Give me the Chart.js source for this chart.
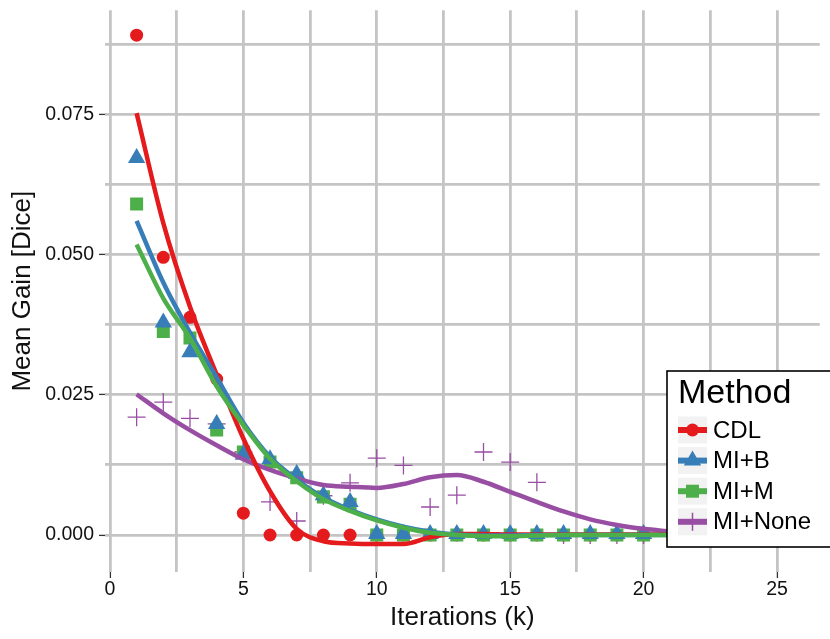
<!DOCTYPE html>
<html lang="en">
<head>
  <meta charset="UTF-8" />
  <title>Mean Gain vs Iterations</title>
  <style>
    body { margin: 0; background: #fff; }
    #chart { display: block; }
  </style>
  <script src="https://cdn.jsdelivr.net/npm/chart.js@4/dist/chart.umd.min.js"></script>
</head>
<body>
  <canvas id="chart" width="830" height="639"></canvas>
  <script>
    /* ---- data ---- */
    // iterations (k) of the measured points
    const iters = [1, 2, 3, 4, 5, 6, 7, 8, 9, 10, 11, 12, 13, 14, 15, 16, 17, 18, 19, 20];
    const cdlPts  = [0.0891, 0.0495, 0.0388, 0.0278, 0.0039, 0, 0, 0, 0, 0, 0, 0, 0, 0, 0, 0, 0, 0, 0, 0];
    const mibPts  = [0.0672, 0.0379, 0.0326, 0.0198, 0.0143, 0.0135, 0.0109, 0.0071, 0.0059, 0.0002, 0.0002, 0.0002, 0.0002, 0.0002, 0.0002, 0.0002, 0.0002, 0.0002, 0.0002, 0.0002];
    const mimPts  = [0.0590, 0.0363, 0.0351, 0.0187, 0.0148, 0.0130, 0.0102, 0.0068, 0.0055, 0, 0, 0, 0, 0, 0, 0, 0, 0, 0, 0];
    const mnPts   = [0.0210, 0.0237, 0.0208, 0.0198, 0.0148, 0.0059, 0.0025, 0.0070, 0.0093, 0.0137, 0.0124, 0.0050, 0.0071, 0.0148, 0.0130, 0.0094, 0, 0, 0, 0];

    // smoothed trend curves
    const fitIters = [1, 2, 3, 4, 5, 6, 7, 8, 9, 10, 11, 12, 13, 14, 15, 16, 17, 18, 19, 20, 21];
    const cdlFit = [0.0752, 0.0556, 0.0407, 0.0286, 0.0172, 0.0078, 0.0011, -0.0011, -0.0015, -0.0016, -0.0016, -0.0004, 0.0002, 0.0002, 0.0001, 0.0001, 0.0001, 0.0001, 0.0001, 0.0001, 0.0001];
    const mibFit = [0.0560, 0.0450, 0.0361, 0.0281, 0.0200, 0.0139, 0.0099, 0.0067, 0.0045, 0.0028, 0.0015, 0.0006, 0.0001, -0.0001, -0.0001, 0, 0, 0, 0, 0, 0];
    const mimFit = [0.0518, 0.0422, 0.0351, 0.0265, 0.0196, 0.0136, 0.0096, 0.0064, 0.0043, 0.0026, 0.0013, 0.0004, 0, -0.0002, -0.0002, -0.0001, 0, 0, 0, 0, 0];
    const mnFit  = [0.0251, 0.0217, 0.0187, 0.0160, 0.0135, 0.0116, 0.0101, 0.0089, 0.0086, 0.0084, 0.0091, 0.0103, 0.0107, 0.0095, 0.0077, 0.0059, 0.0042, 0.0028, 0.0018, 0.0011, 0.0006];

    const methods = ['CDL', 'MI+B', 'MI+M', 'MI+None'];
    const colors  = ['#E41A1C', '#377EB8', '#4DAF4A', '#984EA3'];

    // axis grid / labels
    const xGrid   = [0, 2.5, 5, 7.5, 10, 12.5, 15, 17.5, 20, 22.5, 25];
    const xLabels = [0, 5, 10, 15, 20, 25];
    const yGrid   = [0, 0.0125, 0.025, 0.0375, 0.05, 0.0625, 0.075, 0.0875];
    const yLabels = [0, 0.025, 0.05, 0.075];

    const FONT = '"Liberation Sans", Arial, Helvetica, sans-serif';
    Chart.defaults.font.family = FONT;
    Chart.defaults.color = '#000';

    const isIn = (arr, v) => arr.some(a => Math.abs(a - v) < 1e-9);
    const toXY = (xs, ys) => xs.map((x, i) => ({ x: x, y: ys[i] }));

    /* ---- datasets ---- */
    const styles = [
      { pointStyle: 'circle',   pointRadius: 6.5, borderWidth: 0 },
      { pointStyle: 'triangle', pointRadius: 10,  borderWidth: 0 },
      { pointStyle: 'rect',     pointRadius: 9.2, borderWidth: 0 },
      { pointStyle: 'cross',    pointRadius: 9,   borderWidth: 1.3 }
    ];
    const pointSeries = [cdlPts, mibPts, mimPts, mnPts];
    const fitSeries   = [cdlFit, mibFit, mimFit, mnFit];
    // drawing order: lower = on top
    const pointOrder = [8, 5, 6, 7];
    const lineOrder  = [3, 2, 1, 4];

    const datasets = [];
    methods.forEach((m, i) => {
      datasets.push({
        type: 'scatter',
        label: m,
        data: toXY(iters, pointSeries[i]),
        backgroundColor: colors[i],
        borderColor: colors[i],
        pointBorderWidth: styles[i].borderWidth,
        pointStyle: styles[i].pointStyle,
        pointRadius: styles[i].pointRadius,
        showLine: false,
        order: pointOrder[i]
      });
      datasets.push({
        type: 'line',
        label: m + ' fit',
        data: toXY(fitIters, fitSeries[i]),
        borderColor: colors[i],
        borderWidth: 4.5,
        pointRadius: 0,
        fill: false,
        cubicInterpolationMode: 'monotone',
        order: lineOrder[i]
      });
    });

    /* ---- legend drawn on top of the data ---- */
    function drawMarker(ctx, style, x, y, r, color, lw) {
      ctx.fillStyle = color;
      ctx.strokeStyle = color;
      ctx.beginPath();
      if (style === 'circle') {
        ctx.arc(x, y, r, 0, Math.PI * 2);
        ctx.fill();
      } else if (style === 'triangle') {
        for (let k = 0; k < 3; k++) {
          const a = k * 2 * Math.PI / 3;
          const px = x + Math.sin(a) * r, py = y - Math.cos(a) * r;
          if (k === 0) ctx.moveTo(px, py); else ctx.lineTo(px, py);
        }
        ctx.closePath();
        ctx.fill();
      } else if (style === 'rect') {
        const s = r * Math.SQRT1_2;
        ctx.rect(x - s, y - s, 2 * s, 2 * s);
        ctx.fill();
      } else {
        ctx.lineWidth = lw;
        ctx.moveTo(x - r, y); ctx.lineTo(x + r, y);
        ctx.moveTo(x, y - r); ctx.lineTo(x, y + r);
        ctx.stroke();
      }
    }

    const methodLegend = {
      id: 'methodLegend',
      afterDraw(chart) {
        const ctx = chart.ctx;
        ctx.save();
        ctx.fillStyle = '#fff';
        ctx.fillRect(667, 371, 170, 176);
        ctx.strokeStyle = '#000';
        ctx.lineWidth = 1.6;
        ctx.strokeRect(667, 371, 170, 176);

        ctx.fillStyle = '#000';
        ctx.textBaseline = 'middle';
        ctx.textAlign = 'left';
        ctx.font = '34px ' + FONT;
        ctx.fillText('Method', 678, 394);

        ctx.font = '24px ' + FONT;
        methods.forEach((m, i) => {
          const cy = 430 + i * 30.6;
          ctx.fillStyle = '#F2F2F2';
          ctx.fillRect(678, cy - 13.5, 29, 27);
          ctx.strokeStyle = colors[i];
          ctx.lineWidth = 6;
          ctx.beginPath();
          ctx.moveTo(678, cy);
          ctx.lineTo(707, cy);
          ctx.stroke();
          drawMarker(ctx, styles[i].pointStyle, 692.5, cy, styles[i].pointRadius, colors[i], 1.5);
          ctx.fillStyle = '#000';
          ctx.fillText(m, 713, cy + 1);
        });
        ctx.restore();
      }
    };

    /* ---- chart ---- */
    new Chart(document.getElementById('chart'), {
      type: 'scatter',
      data: { datasets: datasets },
      plugins: [methodLegend],
      options: {
        responsive: false,
        animation: false,
        events: [],
        layout: { padding: { top: 10, right: 0, bottom: 0, left: 0 } },
        plugins: {
          legend: { display: false },
          tooltip: { enabled: false }
        },
        scales: {
          x: {
            type: 'linear',
            min: -0.185,
            max: 26.6,
            afterBuildTicks: (scale) => { scale.ticks = xGrid.map(v => ({ value: v })); },
            afterFit: (scale) => {
              scale.height = 67;
              scale.paddingLeft = 0;
              scale.paddingRight = 0;
            },
            border: { display: false },
            grid: {
              color: '#C4C4C4',
              lineWidth: 2.8,
              tickLength: 6,
              tickWidth: 1.3,
              tickColor: (c) => (isIn(xLabels, c.tick.value) ? '#333' : 'rgba(0,0,0,0)')
            },
            ticks: {
              autoSkip: false,
              maxRotation: 0,
              padding: 0,
              color: '#111',
              font: { size: 19.5 },
              callback: (v) => (isIn(xLabels, v) ? String(v) : '')
            },
            title: {
              display: true,
              text: 'Iterations (k)',
              color: '#111',
              font: { size: 26 },
              padding: { top: 0, bottom: 6 }
            }
          },
          y: {
            type: 'linear',
            min: -0.00659,
            max: 0.09353,
            afterBuildTicks: (scale) => { scale.ticks = yGrid.map(v => ({ value: v })); },
            afterFit: (scale) => {
              scale.width = 105;
              scale.paddingTop = 0;
              scale.paddingBottom = 0;
            },
            border: { display: false },
            grid: {
              color: '#C4C4C4',
              lineWidth: 2.8,
              tickLength: 6,
              tickWidth: 1.3,
              tickColor: (c) => (isIn(yLabels, c.tick.value) ? '#333' : 'rgba(0,0,0,0)')
            },
            ticks: {
              autoSkip: false,
              padding: 5,
              color: '#111',
              font: { size: 19.5 },
              callback: (v) => (isIn(yLabels, v) ? v.toFixed(3) : '')
            },
            title: {
              display: true,
              text: 'Mean Gain [Dice]',
              color: '#111',
              font: { size: 26 },
              padding: { top: 7, bottom: 0 }
            }
          }
        }
      }
    });
  </script>
</body>
</html>
